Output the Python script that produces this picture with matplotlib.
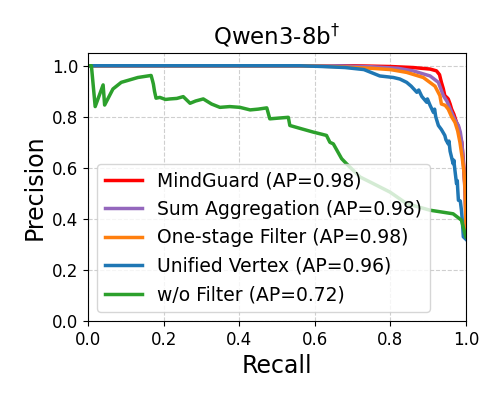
import matplotlib
matplotlib.use("Agg")
import matplotlib.pyplot as plt

# Curve data (recall, precision)
mind_r = [0.0, 0.70, 0.80, 0.86, 0.905, 0.922, 0.93, 0.935, 0.94, 0.944, 0.95, 0.953, 0.958, 0.962,
          0.968, 0.975, 0.98, 0.985, 0.989, 0.993, 0.996, 0.998, 1.0]
mind_p = [1.0, 1.0, 0.997, 0.993, 0.987, 0.98, 0.965, 0.935, 0.91, 0.883, 0.875, 0.87, 0.85, 0.83,
          0.81, 0.778, 0.76, 0.72, 0.70, 0.63, 0.56, 0.51, 0.40]

sum_r = [0.0, 0.65, 0.75, 0.82, 0.86, 0.905, 0.927, 0.94, 0.95, 0.962, 0.97, 0.98, 0.985, 0.989,
         0.993, 0.997, 1.0]
sum_p = [1.0, 1.0, 0.996, 0.99, 0.98, 0.96, 0.935, 0.883, 0.86, 0.817, 0.79, 0.766, 0.74, 0.70,
         0.62, 0.52, 0.38]

one_r = [0.0, 0.56, 0.65, 0.75, 0.80, 0.843, 0.887, 0.918, 0.931, 0.935, 0.945, 0.953, 0.962, 0.971,
         0.978, 0.984, 0.99, 0.995, 0.998, 1.0]
one_p = [1.0, 1.0, 0.997, 0.99, 0.985, 0.974, 0.954, 0.92, 0.883, 0.85, 0.845, 0.83, 0.80, 0.778,
         0.745, 0.70, 0.64, 0.58, 0.50, 0.36]

uni_r = [0.0, 0.56, 0.62, 0.68, 0.73, 0.772, 0.808, 0.825, 0.843, 0.855, 0.87, 0.875, 0.883, 0.896,
         0.898, 0.905, 0.914, 0.917, 0.92, 0.927, 0.935, 0.944, 0.947, 0.953, 0.955, 0.958, 0.966,
         0.968, 0.97, 0.975, 0.977, 0.978, 0.98, 0.985, 0.988, 0.99, 0.993, 1.0]
uni_p = [1.0, 1.0, 0.997, 0.993, 0.985, 0.96, 0.954, 0.948, 0.935, 0.92, 0.896, 0.905, 0.88, 0.857,
         0.87, 0.845, 0.817, 0.83, 0.80, 0.766, 0.75, 0.727, 0.71, 0.694, 0.705, 0.665, 0.616,
         0.63, 0.60, 0.538, 0.55, 0.52, 0.473, 0.47, 0.434, 0.40, 0.33, 0.32]

wo_r = [0.0, 0.009, 0.019, 0.04, 0.044, 0.066, 0.088, 0.132, 0.167, 0.171, 0.173, 0.176, 0.18, 0.19,
        0.205, 0.217, 0.235, 0.252, 0.27, 0.285, 0.305, 0.327, 0.349, 0.375, 0.402, 0.429, 0.45,
        0.473, 0.481, 0.505, 0.53, 0.534, 0.56, 0.596, 0.615, 0.631, 0.64, 0.649, 0.671, 0.684,
        0.72, 0.755, 0.799, 0.843, 0.905, 0.966, 0.988, 0.997, 1.0]
wo_p = [1.0, 1.0, 0.84, 0.925, 0.846, 0.909, 0.935, 0.954, 0.962, 0.94, 0.928, 0.90, 0.873, 0.876,
        0.868, 0.87, 0.872, 0.879, 0.853, 0.862, 0.87, 0.85, 0.837, 0.84, 0.837, 0.827, 0.83,
        0.835, 0.792, 0.795, 0.798, 0.766, 0.755, 0.74, 0.733, 0.727, 0.70, 0.694, 0.636, 0.616,
        0.564, 0.538, 0.505, 0.46, 0.434, 0.42, 0.395, 0.344, 0.33]

labels = ["MindGuard (AP=0.98)", "Sum Aggregation (AP=0.98)", "One-stage Filter (AP=0.98)",
          "Unified Vertex (AP=0.96)", "w/o Filter (AP=0.72)"]
colors = ["#ff0000", "#9467bd", "#ff7f0e", "#1f77b4", "#2ca02c"]
curves = [(mind_r, mind_p), (sum_r, sum_p), (one_r, one_p), (uni_r, uni_p), (wo_r, wo_p)]

fig = plt.figure(figsize=(4.98, 3.99), dpi=100)
ax = fig.add_axes([0.1767, 0.1955, 0.759, 0.6717])

for (r, p), lab, c in zip(curves, labels, colors):
    ax.plot(r, p, color=c, lw=2.5, label=lab)

ax.set_xlim(0, 1.0)
ax.set_ylim(0, 1.05)
ax.set_xticks([0, 0.2, 0.4, 0.6, 0.8, 1.0])
ax.set_yticks([0, 0.2, 0.4, 0.6, 0.8, 1.0])
ax.tick_params(labelsize=12)
ax.grid(True, linestyle="--", alpha=0.6)
ax.set_xlabel("Recall", fontsize=17)
ax.set_ylabel("Precision", fontsize=17)
ax.set_title("Qwen3-8b$^{\\dagger}$", fontsize=16.5)
ax.legend(loc="lower left", fontsize=13.5)

fig.savefig("out.png", dpi=100)
